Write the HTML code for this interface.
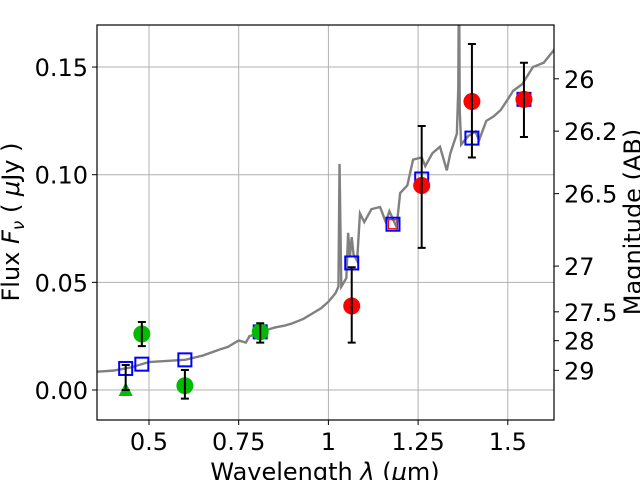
<!DOCTYPE html>
<html><head><meta charset="utf-8"><style>
body{margin:0;background:#fff;width:640px;height:480px;overflow:hidden}
text{font-family:"DejaVu Sans","Liberation Sans",sans-serif;fill:#000}
</style></head><body>
<svg id="chart" width="640" height="480" xmlns="http://www.w3.org/2000/svg">
<defs><clipPath id="clip"><rect x="97" y="25" width="457" height="395"/></clipPath></defs>
<g id="grid"></g>
<g id="spec" clip-path="url(#clip)"></g>
<g id="marks" clip-path="url(#clip)"></g>
<rect x="97" y="25" width="457" height="395" fill="none" stroke="#000" stroke-width="1.2"/>
<g id="axes"></g>
<text x="19" y="222" font-size="24" text-anchor="middle" transform="rotate(-90 19 222)">Flux  <tspan font-style="italic">F</tspan><tspan font-style="italic" font-size="17" dy="5">ν</tspan><tspan dy="-5">  ( </tspan><tspan font-style="italic">μ</tspan>Jy )</text>
<text x="641" y="222" font-size="24" text-anchor="middle" transform="rotate(-90 641 222)">Magnitude (AB)</text>
<text x="325" y="480" font-size="24" text-anchor="middle">Wavelength  <tspan font-style="italic">λ</tspan> (<tspan font-style="italic">μ</tspan>m)</text>
</svg>
<script>
const xTicks=[0.5,0.75,1,1.25,1.5];
const xTickLabels=["0.5","0.75","1","1.25","1.5"];
const yTicks=[0,0.05,0.1,0.15];
const yTickLabels=["0.00","0.05","0.10","0.15"];
const magTicks=[26,26.2,26.5,27,27.5,28,29];
const magTickLabels=["26","26.2","26.5","27","27.5","28","29"];
const specWave=[0.355,0.4,0.45,0.5,0.55,0.6,0.65,0.7,0.72,0.75,0.77,0.78,0.8,0.83,0.85,0.88,0.9,0.93,0.95,0.98,1.0,1.02,1.028,1.031,1.036,1.05,1.055,1.06,1.065,1.07,1.08,1.088,1.1,1.12,1.144,1.16,1.17,1.19,1.2,1.22,1.236,1.26,1.27,1.29,1.311,1.33,1.34,1.358,1.362,1.364,1.366,1.37,1.375,1.39,1.41,1.42,1.44,1.46,1.48,1.5,1.515,1.54,1.57,1.6,1.629];
const specFlux=[0.0085,0.009,0.0105,0.013,0.0135,0.014,0.016,0.019,0.020,0.023,0.022,0.025,0.026,0.028,0.029,0.030,0.031,0.033,0.035,0.038,0.041,0.045,0.048,0.105,0.048,0.052,0.073,0.062,0.071,0.063,0.06,0.082,0.078,0.084,0.085,0.078,0.083,0.0757,0.0915,0.095,0.107,0.108,0.104,0.110,0.113,0.102,0.110,0.119,0.14,0.2,0.13,0.114,0.115,0.118,0.12,0.116,0.125,0.127,0.13,0.135,0.139,0.142,0.15,0.152,0.158];
const sqWave=[0.435,0.48,0.6,0.81,1.065,1.18,1.26,1.40,1.545];
const sqFlux=[0.010,0.012,0.014,0.027,0.059,0.077,0.098,0.117,0.135];
const greenWave=[0.48,0.6,0.81];
const greenFlux=[0.026,0.002,0.027];
const greenLo=[0.0204,-0.004,0.022];
const greenHi=[0.0316,0.0093,0.031];
const triWave=[0.435];
const triFlux=[0.0];
const triHi=[0.0116];
const redWave=[1.065,1.26,1.40,1.545];
const redFlux=[0.039,0.095,0.134,0.135];
const redLo=[0.022,0.066,0.108,0.1175];
const redHi=[0.057,0.1226,0.1607,0.152];

const X=l=>149+(l-0.5)*358.8;
const Y=f=>390-f*2153;
const magToFlux=m=>Math.pow(10,-0.4*(m-23.9));
const NS="http://www.w3.org/2000/svg";
function mk(parent,tag,attrs){const e=document.createElementNS(NS,tag);for(const k in attrs)e.setAttribute(k,attrs[k]);document.getElementById(parent).appendChild(e);return e;}

xTicks.forEach((t,i)=>{
  const g=mk('grid','line',{x1:X(t),x2:X(t),y1:25,y2:420,stroke:'#b0b0b0','stroke-width':1});
  
  
  const tk=mk('axes','line',{x1:X(t),x2:X(t),y1:420,y2:425,stroke:'#000'});
  
  
  const tx=mk('axes','text',{x:X(t),y:450,'font-size':24,'text-anchor':'middle'});
  tx.textContent=xTickLabels[i];
  
  
});
yTicks.forEach((t,i)=>{
  const g=mk('grid','line',{x1:97,x2:554,y1:Y(t),y2:Y(t),stroke:'#b0b0b0','stroke-width':1});
  
  
  const tk=mk('axes','line',{x1:92,x2:97,y1:Y(t),y2:Y(t),stroke:'#000'});
  
  
  const tx=mk('axes','text',{x:88,y:Y(t)+9,'font-size':24,'text-anchor':'end'});
  tx.textContent=yTickLabels[i];
  
  
});
magTicks.forEach((m,i)=>{
  const y=Y(magToFlux(m));
  const tk=mk('axes','line',{x1:554,x2:559,y1:y,y2:y,stroke:'#000'});
  
  
  const tx=mk('axes','text',{x:564,y:y+9,'font-size':24});
  tx.textContent=magTickLabels[i];
  
  
});
const sp=mk('spec','polyline',{points:specWave.map((l,i)=>X(l)+','+Y(specFlux[i])).join(' '),fill:'none',stroke:'#808080','stroke-width':2.4});



function errbar(x,lo,hi){
  const l=mk('marks','path',{d:`M${x},${Y(lo)}V${Y(hi)}M${x-4},${Y(lo)}h8M${x-4},${Y(hi)}h8`,stroke:'#000','stroke-width':2,fill:'none'});
  
  
}
sqWave.forEach((l,i)=>{
  const r=mk('marks','rect',{x:X(l)-6.5,y:Y(sqFlux[i])-6.5,width:13,height:13,fill:'none',stroke:'#0000ff','stroke-width':2});
  
  
  if(Math.abs(l-1.18)<0.01){const r2=mk('marks','rect',{x:X(l)-4.5,y:Y(sqFlux[i])-4.5,width:9,height:9,fill:'none',stroke:'#ff0000','stroke-width':1.2});
    
    }
});
greenWave.forEach((l,i)=>{
  const c=mk('marks','circle',{cx:X(l),cy:Y(greenFlux[i]),r:8.5,fill:'#00bb00'});
  
  
  errbar(X(l),greenLo[i],greenHi[i]);
});
triWave.forEach((l,i)=>{
  const x=X(l),y=Y(triFlux[i]);
  const t=mk('marks','polygon',{points:`${x},${y-8} ${x-7},${y+6} ${x+7},${y+6}`,fill:'#00bb00'});
  
  
  errbar(x,triFlux[i],triHi[i]);
});
redWave.forEach((l,i)=>{
  const c=mk('marks','circle',{cx:X(l),cy:Y(redFlux[i]),r:8.5,fill:'#ff0000'});
  
  
  errbar(X(l),redLo[i],redHi[i]);
});
</script>
</body></html>
